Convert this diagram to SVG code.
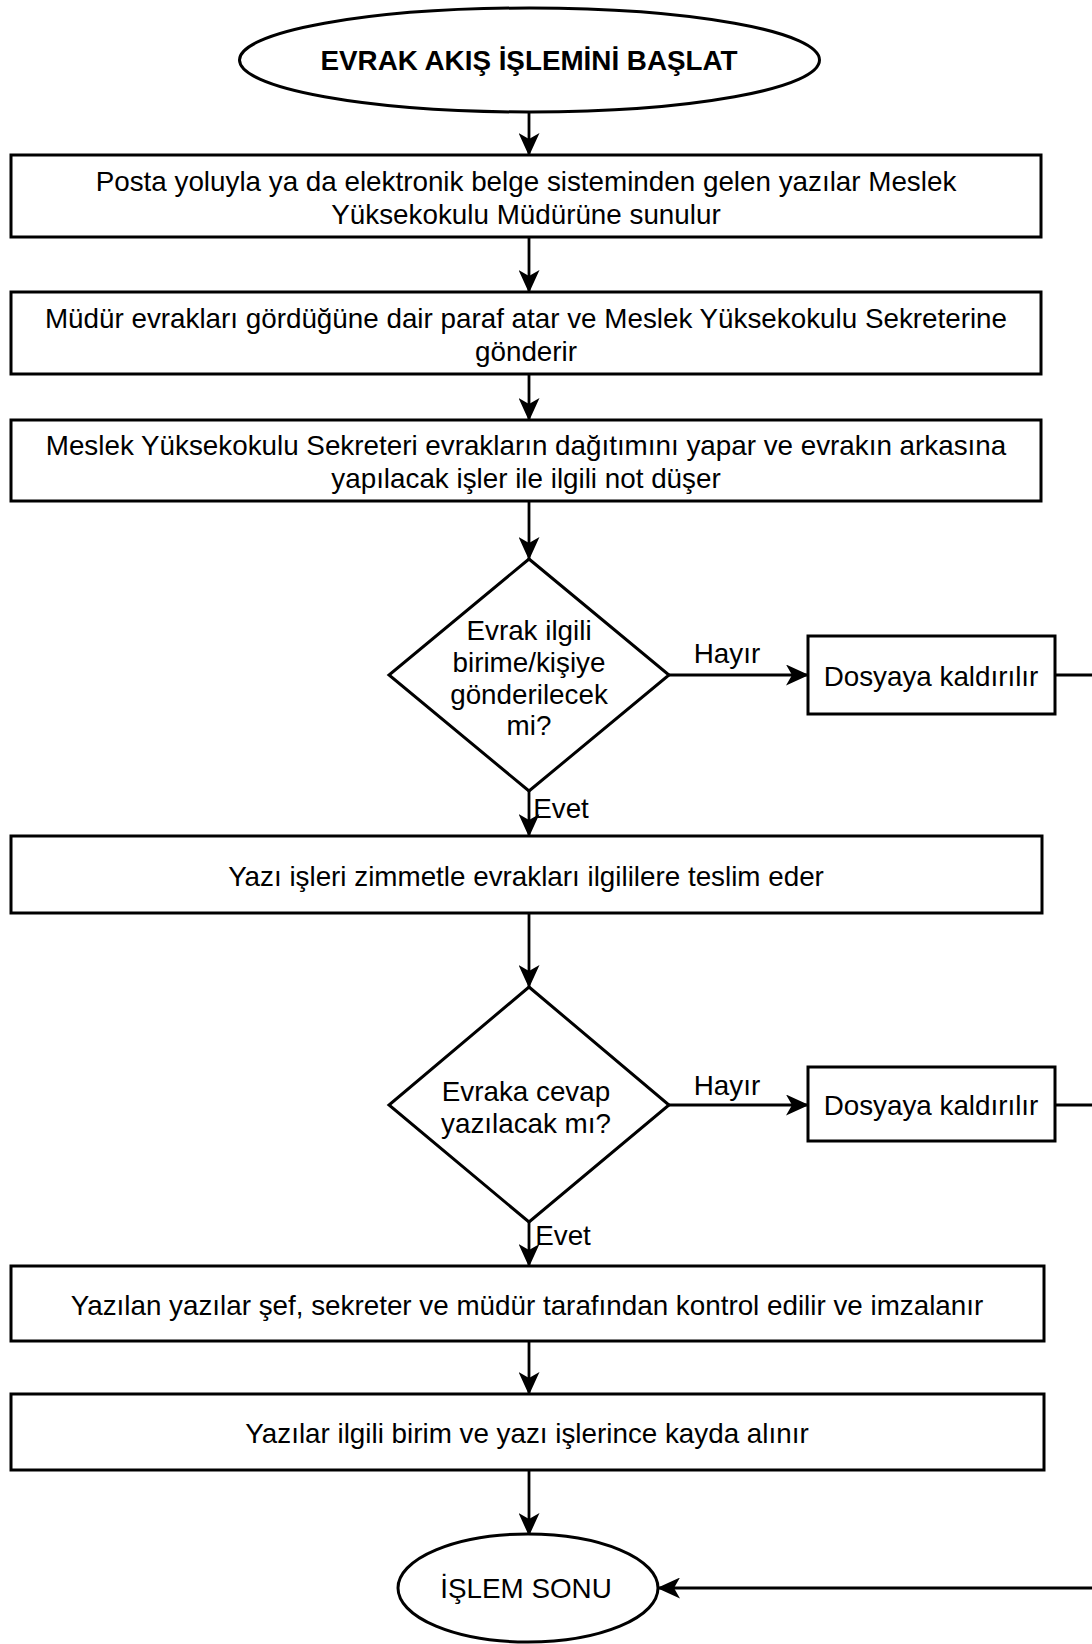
<svg xmlns="http://www.w3.org/2000/svg" width="1092" height="1644" viewBox="0 0 1092 1644">
<style>
.s{fill:#fff;stroke:#000;stroke-width:3}
.t{font-family:"Liberation Sans",Arial,sans-serif;font-size:27.8px;fill:#000;text-anchor:middle;dominant-baseline:central}
.b{font-weight:bold}
.c{fill:none;stroke:#000;stroke-width:2.8}
</style>
<defs>
<marker id="a" markerUnits="userSpaceOnUse" markerWidth="23" markerHeight="21" refX="22" refY="10.5" orient="auto">
<path d="M0,0 L23,10.5 L0,21 L6,10.5 Z" fill="#000"/>
</marker>
</defs>
<rect width="1092" height="1644" fill="#fff"/>
<g id="connectors">
<path class="c" d="M529 112 V155" marker-end="url(#a)"/>
<path class="c" d="M529 237 V292" marker-end="url(#a)"/>
<path class="c" d="M529 374 V420" marker-end="url(#a)"/>
<path class="c" d="M529 501 V559" marker-end="url(#a)"/>
<path class="c" d="M669 675 H808" marker-end="url(#a)"/>
<path class="c" d="M1055 675 H1100 V1588"/>
<path class="c" d="M529 791 V836" marker-end="url(#a)"/>
<path class="c" d="M529 913 V987" marker-end="url(#a)"/>
<path class="c" d="M669 1105 H808" marker-end="url(#a)"/>
<path class="c" d="M1055 1105 H1100"/>
<path class="c" d="M529 1222 V1266" marker-end="url(#a)"/>
<path class="c" d="M529 1341 V1394" marker-end="url(#a)"/>
<path class="c" d="M529 1470 V1535" marker-end="url(#a)"/>
<path class="c" d="M1100 1588 H658" marker-end="url(#a)"/>
<text class="t" x="727" y="653">Hayır</text>
<text class="t" x="561" y="808">Evet</text>
<text class="t" x="727" y="1085">Hayır</text>
<text class="t" x="563" y="1235">Evet</text>
</g>
<g id="start">
<ellipse class="s" cx="529.5" cy="60" rx="290" ry="52"/>
<text class="t b" x="529" y="60">EVRAK AKIŞ İŞLEMİNİ BAŞLAT</text>
</g>
<g id="box1">
<rect class="s" x="11" y="155" width="1030" height="82"/>
<text class="t" x="526" y="181">Posta yoluyla ya da elektronik belge sisteminden gelen yazılar Meslek</text>
<text class="t" x="526" y="214">Yüksekokulu Müdürüne sunulur</text>
</g>
<g id="box2">
<rect class="s" x="11" y="292" width="1030" height="82"/>
<text class="t" x="526" y="318">Müdür evrakları gördüğüne dair paraf atar ve Meslek Yüksekokulu Sekreterine</text>
<text class="t" x="526" y="351">gönderir</text>
</g>
<g id="box3">
<rect class="s" x="11" y="420" width="1030" height="81"/>
<text class="t" x="526" y="445">Meslek Yüksekokulu Sekreteri evrakların dağıtımını yapar ve evrakın arkasına</text>
<text class="t" x="526" y="478">yapılacak işler ile ilgili not düşer</text>
</g>
<g id="decision1">
<polygon class="s" points="529,559 669,675 529,791 389,675"/>
<text class="t" x="529" y="630">Evrak ilgili</text>
<text class="t" x="529" y="662">birime/kişiye</text>
<text class="t" x="529" y="694">gönderilecek</text>
<text class="t" x="529" y="725">mi?</text>
</g>
<g id="file1">
<rect class="s" x="808" y="636" width="247" height="78"/>
<text class="t" x="931" y="676">Dosyaya kaldırılır</text>
</g>
<g id="box4">
<rect class="s" x="11" y="836" width="1031" height="77"/>
<text class="t" x="526" y="876">Yazı işleri zimmetle evrakları ilgililere teslim eder</text>
</g>
<g id="decision2">
<polygon class="s" points="529,987 669,1105 529,1222 389,1105"/>
<text class="t" x="526" y="1091">Evraka cevap</text>
<text class="t" x="526" y="1123">yazılacak mı?</text>
</g>
<g id="file2">
<rect class="s" x="808" y="1067" width="247" height="74"/>
<text class="t" x="931" y="1105">Dosyaya kaldırılır</text>
</g>
<g id="box5">
<rect class="s" x="11" y="1266" width="1033" height="75"/>
<text class="t" x="527" y="1305">Yazılan yazılar şef, sekreter ve müdür tarafından kontrol edilir ve imzalanır</text>
</g>
<g id="box6">
<rect class="s" x="11" y="1394" width="1033" height="76"/>
<text class="t" x="527" y="1433">Yazılar ilgili birim ve yazı işlerince kayda alınır</text>
</g>
<g id="end">
<ellipse class="s" cx="528" cy="1588" rx="130" ry="54"/>
<text class="t" x="526" y="1588">İŞLEM SONU</text>
</g>
</svg>
